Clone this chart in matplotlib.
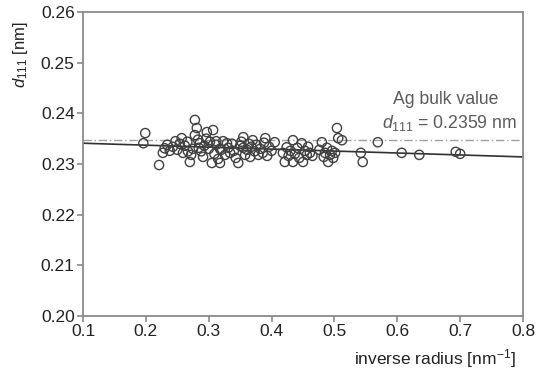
import matplotlib
matplotlib.use("Agg")
import matplotlib.pyplot as plt
import numpy as np

plt.rcParams['font.family'] = ['Liberation Sans', 'DejaVu Sans']
plt.rcParams['mathtext.fontset'] = 'custom'
plt.rcParams['mathtext.rm'] = 'Liberation Sans'
plt.rcParams['mathtext.it'] = 'Liberation Sans:italic'
plt.rcParams['mathtext.bf'] = 'Liberation Sans:bold'

inv_radius = [
    0.199, 0.196, 0.221, 0.227, 0.230, 0.234, 0.238, 0.243, 0.247, 0.250,
    0.254, 0.257, 0.259, 0.262, 0.266, 0.270, 0.272, 0.275, 0.278, 0.281,
    0.278, 0.283, 0.286, 0.288, 0.291, 0.293, 0.297, 0.300, 0.302, 0.305,
    0.307, 0.309, 0.312, 0.315, 0.318, 0.320, 0.323, 0.326, 0.329, 0.331,
    0.334, 0.337, 0.340, 0.343, 0.347, 0.350, 0.352, 0.355, 0.355, 0.358,
    0.361, 0.364, 0.366, 0.368, 0.370, 0.373, 0.376, 0.379, 0.382, 0.386,
    0.388, 0.390, 0.393, 0.396, 0.400, 0.405, 0.267, 0.284, 0.296, 0.312,
    0.318, 0.418, 0.421, 0.424, 0.427, 0.430, 0.434, 0.434, 0.437, 0.441,
    0.444, 0.448, 0.450, 0.453, 0.456, 0.458, 0.461, 0.465, 0.476, 0.480,
    0.483, 0.485, 0.488, 0.490, 0.493, 0.496, 0.498, 0.501, 0.504, 0.506,
    0.512, 0.542, 0.545, 0.569, 0.607, 0.635, 0.693, 0.700,
]
d111 = [
    0.2361, 0.2341, 0.2298, 0.2322, 0.2331, 0.2338, 0.2326, 0.2334, 0.2345, 0.2328,
    0.2340, 0.2351, 0.2322, 0.2336, 0.2344, 0.2304, 0.2318, 0.2330, 0.2387, 0.2371,
    0.2357, 0.2348, 0.2341, 0.2325, 0.2314, 0.2336, 0.2363, 0.2330, 0.2344, 0.2302,
    0.2367, 0.2320, 0.2338, 0.2310, 0.2302, 0.2328, 0.2345, 0.2318, 0.2341, 0.2332,
    0.2322, 0.2340, 0.2326, 0.2312, 0.2302, 0.2336, 0.2344, 0.2332, 0.2353, 0.2318,
    0.2328, 0.2340, 0.2314, 0.2334, 0.2347, 0.2325, 0.2338, 0.2318, 0.2330, 0.2322,
    0.2342, 0.2351, 0.2316, 0.2334, 0.2326, 0.2343, 0.2325, 0.2332, 0.2350, 0.2345,
    0.2330, 0.2322, 0.2304, 0.2333, 0.2316, 0.2326, 0.2347, 0.2304, 0.2320, 0.2332,
    0.2312, 0.2341, 0.2304, 0.2326, 0.2318, 0.2334, 0.2322, 0.2316, 0.2328, 0.2343,
    0.2314, 0.2322, 0.2332, 0.2304, 0.2318, 0.2326, 0.2312, 0.2322, 0.2371, 0.2351,
    0.2347, 0.2322, 0.2304, 0.2343, 0.2322, 0.2318, 0.2324, 0.2320,
]
fit_x = [0.1, 0.8]
fit_y = [0.2341, 0.2314]
bulk_line = 0.2347
x_ticks = [0.1, 0.2, 0.3, 0.4, 0.5, 0.6, 0.7, 0.8]
y_ticks = [0.20, 0.21, 0.22, 0.23, 0.24, 0.25, 0.26]

fig = plt.figure(figsize=(5.48, 3.74), dpi=100)
ax = fig.add_axes([83/548, 1-316/374, (523-83)/548, (316-12)/374])

gray = '#8a8a8a'
ax.axhline(bulk_line, color='#a0a0a0', lw=1.0, ls=(0, (6, 2, 1, 2)), zorder=1)
ax.plot(fit_x, fit_y, color='#303030', lw=1.2, zorder=2)
ax.scatter(inv_radius, d111, s=44, facecolors='none', edgecolors='#404040',
           linewidths=1.0, zorder=3)

ax.set_xlim(0.1, 0.8)
ax.set_ylim(0.20, 0.26)
ax.set_xticks(x_ticks)
ax.set_yticks(y_ticks)
ax.set_xticklabels([f"{v:.1f}" for v in x_ticks])
ax.set_yticklabels([f"{v:.2f}" for v in y_ticks])
for s in ax.spines.values():
    s.set_color(gray)
    s.set_linewidth(1.3)
ax.tick_params(direction='out', length=4, width=1.2, color=gray,
               labelsize=12.5, labelcolor='#222222', pad=2)

dlab = r"$\mathit{d}_{\mathit{111}}$"
ax.text(446/548, 1-100/374, "Ag bulk value", fontsize=12.7, color='#5a5a5a',
        ha='center', va='center', transform=fig.transFigure)
ax.text(517/548, 1-123/374, dlab + " = 0.2359 nm", fontsize=12.7, color='#5a5a5a',
        ha='right', va='center', transform=fig.transFigure)

fig.text(20/548, 1-55/374, dlab + " [nm]", rotation=90, fontsize=12,
         color='#222222', ha='center', va='center')
fig.text(516/548, 1-359/374, r"inverse radius [nm$^{-1}$]", fontsize=12.5,
         color='#222222', ha='right', va='center')

fig.savefig("out.png", dpi=100)
